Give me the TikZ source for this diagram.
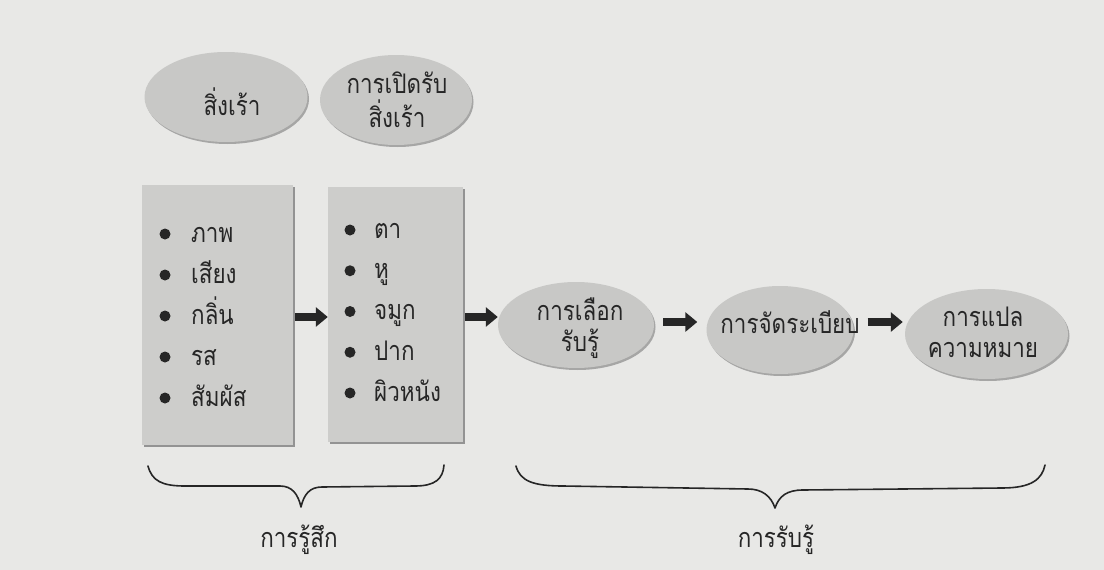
\documentclass[tikz,border=0pt]{standalone}
\usepackage{fontspec}
\newfontfamily\thaifont[Script=Thai,FakeStretch=0.83]{Loma}
\usetikzlibrary{arrows.meta,shapes.geometric,shadows}

\definecolor{pagebg}{HTML}{E8E8E6}
\definecolor{bubblefill}{HTML}{C8C8C6}
\definecolor{boxfill}{HTML}{CDCDCB}
\definecolor{rimshade}{HTML}{8A8A8A}
\definecolor{ink}{HTML}{262626}

\tikzset{
  thaitext/.style={font=\thaifont\fontsize{27}{31}\selectfont, text=ink, inner sep=0pt},
  bubble/.style={ellipse, inner sep=0pt, fill=bubblefill, draw=none,
    drop shadow={shadow xshift=1.5pt, shadow yshift=-2pt, fill=rimshade, opacity=0.7}},
  bubbletext/.style={thaitext, align=center},
  listbox/.style={rectangle, inner sep=0pt, fill=boxfill, draw=none,
    drop shadow={shadow xshift=2pt, shadow yshift=-2pt, fill=rimshade, opacity=0.9}},
  dot/.style={circle, fill=ink, inner sep=0pt, minimum size=11pt},
  item/.style={thaitext, anchor=base west},
  blockarrow/.style={-{Triangle[length=12pt,width=19pt]}, line width=8.5pt, draw=ink},
  bracepath/.style={draw=ink, line width=1.6pt, line cap=round, line join=round},
}

\begin{document}
\begin{tikzpicture}[x=1pt,y=-1pt]
  % page
  \fill[pagebg] (0,0) rectangle (1104,570);
  \useasboundingbox (0,0) rectangle (1104,570);

  % top bubbles
  \node[bubble, minimum width=163pt, minimum height=90pt] (stim) at (226,97) {};
  \node[bubbletext] (stimtxt) at (232,102) {สิ่งเร้า};
  \node[bubble, minimum width=152pt, minimum height=90pt] (expo) at (396,100) {};
  \node[bubbletext, font=\thaifont\fontsize{27}{34}\selectfont] (expotxt) at (397,100) {การเปิดรับ\\สิ่งเร้า};

  % list boxes
  \node[listbox, minimum width=151pt, minimum height=260pt] (box1) at (217.5,315) {};
  \node[listbox, minimum width=135pt, minimum height=255pt] (box2) at (395.5,314.5) {};

  % first list
  \foreach \txt [count=\i] in {ภาพ, เสียง, กลิ่น, รส, สัมผัส} {
    \pgfmathsetmacro{\yy}{234+41*(\i-1)}
    \node[dot] (sdot\i) at (165,\yy) {};
    \node[item] (sense\i) at (191,\yy+8) {\txt};
  }
  % second list
  \foreach \txt [count=\i] in {ตา, หู, จมูก, ปาก, ผิวหนัง} {
    \pgfmathsetmacro{\yy}{230+40.75*(\i-1)}
    \node[dot] (odot\i) at (350,\yy) {};
    \node[item] (organ\i) at (374,\yy+8) {\txt};
  }

  % process bubbles
  \node[bubble, minimum width=156pt, minimum height=86pt] (select) at (576,325) {};
  \node[bubbletext] (selecttxt) at (580,328) {การเลือก\\รับรู้};
  \node[bubble, minimum width=147pt, minimum height=88pt] (organize) at (780,330) {};
  \node[bubbletext] (organizetxt) at (790,322) {การจัดระเบียบ};
  \node[bubble, minimum width=163pt, minimum height=90pt] (interpret) at (986.5,334) {};
  \node[bubbletext] (interprettxt) at (983,332) {การแปล\\ความหมาย};

  % arrows
  \draw[blockarrow] ([yshift=-2pt]box1.east) ++(2,0) -- ([yshift=-2pt]box1.east -| box2.west);
  \draw[blockarrow] ([yshift=-2.5pt]box2.east) ++(2,0) -- ([yshift=-2.5pt]box2.east -| select.west);
  \draw[blockarrow, shorten <=9pt, shorten >=9pt] ([yshift=3pt]select.east) -- ([yshift=3pt]select.east -| organize.west);
  \draw[blockarrow, shorten <=14pt, shorten >=2pt] ([yshift=8pt]organize.east) -- ([yshift=8pt]organize.east -| interpret.west);

  % braces
  \draw[bracepath] (148,466) .. controls (152,481) and (162,486) .. (185,486)
    -- (280,486) .. controls (292,486) and (298,494) .. (301,507)
    .. controls (304,494) and (310,487) .. (322,487)
    -- (415,486) .. controls (435,486) and (443,479) .. (444,465);
  \draw[bracepath] (516,466) .. controls (520,481) and (533,486) .. (563,486)
    -- (748,489) .. controls (762,489) and (771,496) .. (775,508)
    .. controls (779,496) and (787,490) .. (803,490)
    -- (1002,488) .. controls (1032,488) and (1042,479) .. (1045,465);

  % brace labels
  \node[thaitext] (feel) at (299,540) {การรู้สึก};
  \node[thaitext] (perceive) at (776,540) {การรับรู้};
\end{tikzpicture}
\end{document}
